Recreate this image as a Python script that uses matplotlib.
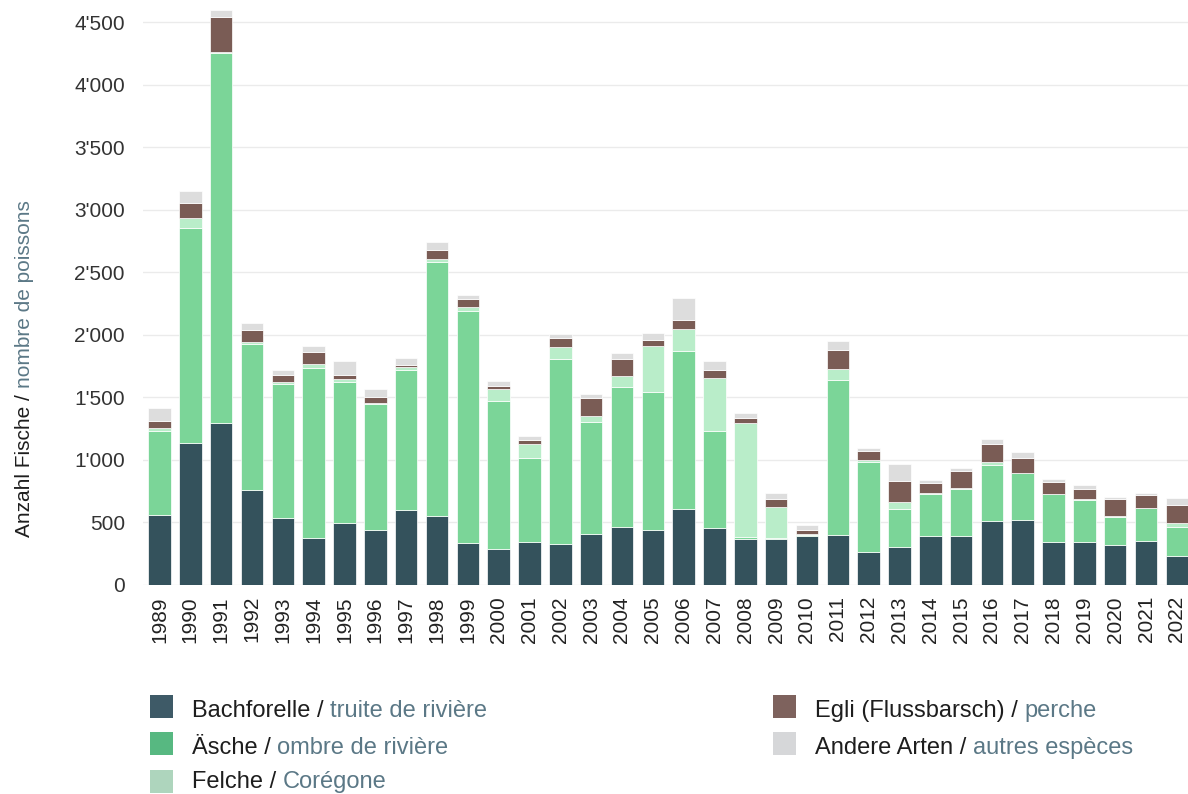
import matplotlib
matplotlib.use("Agg")
import matplotlib.pyplot as plt
from matplotlib.patches import Rectangle
from matplotlib.ticker import FuncFormatter

plt.rcParams['font.family'] = ['Liberation Sans', 'DejaVu Sans']

years = [str(y) for y in range(1989, 2023)]
bachforelle = [562, 1139, 1298, 757, 534, 373, 498, 443, 599, 550, 333, 290, 346, 325, 410, 466, 437,
               610, 458, 370, 368, 389, 397, 261, 306, 391, 388, 513, 519, 340, 343, 317, 348, 234]
aesche = [666, 1713, 2953, 1170, 1069, 1359, 1121, 1005, 1117, 2031, 1854, 1179, 671, 1479, 893, 1114, 1103,
          1261, 773, 14, 5, 11, 1245, 725, 302, 340, 381, 447, 377, 384, 338, 226, 266, 229]
felche = [30, 83, 9, 18, 19, 36, 24, 6, 25, 27, 33, 95, 107, 99, 48, 94, 373,
          173, 421, 914, 248, 5, 82, 16, 58, 6, 3, 24, 3, 5, 3, 8, 3, 34]
egli = [52, 116, 284, 92, 55, 98, 37, 52, 15, 73, 64, 27, 37, 74, 147, 136, 48,
        77, 67, 35, 64, 35, 157, 67, 163, 82, 139, 144, 114, 96, 87, 133, 104, 139]
andere = [101, 101, 55, 61, 45, 46, 110, 61, 61, 61, 37, 37, 30, 32, 32, 45, 54,
          176, 72, 45, 53, 42, 70, 26, 136, 24, 21, 42, 48, 24, 32, 16, 18, 61]

series = [bachforelle, aesche, felche, egli, andere]
bar_colors = ['#34525c', '#7bd598', '#b9edc9', '#7a5c55', '#dddddd']
legend_colors = ['#3e5a67', '#57b881', '#aed5bd', '#7e625d', '#d6d7d9']
labels_de = ['Bachforelle /', 'Äsche /', 'Felche /', 'Egli (Flussbarsch) /', 'Andere Arten /']
labels_fr = ['truite de rivière', 'ombre de rivière', 'Corégone', 'perche', 'autres espèces']

DARK = '#1e1e1e'
SLATE = '#5b7886'
W, H = 1188, 794

fig = plt.figure(figsize=(W / 100, H / 100), dpi=100)
ax = fig.add_axes([143 / W, 1 - 585 / H, (W - 143) / W, 585 / H])

x = range(len(years))
bottom = [0] * len(years)
for vals, col in zip(series, bar_colors):
    ax.bar(x, vals, width=0.73, bottom=bottom, color=col, edgecolor='white', linewidth=0.5, zorder=3)
    bottom = [b + v for b, v in zip(bottom, vals)]

ax.set_xlim(-0.535, 33.36)
ax.set_ylim(0, 4676)
ax.set_yticks(range(0, 4501, 500))
ax.yaxis.set_major_formatter(FuncFormatter(lambda v, p: f"{int(v):,}".replace(",", "'")))
ax.set_xticks(list(x))
ax.set_xticklabels(years, rotation=90)
ax.grid(axis='y', color='#ebebeb', linewidth=1, zorder=0)
ax.tick_params(axis='y', length=0, pad=13, labelsize=15, labelcolor='#333333')
ax.tick_params(axis='x', length=0, pad=8, labelsize=15, labelcolor='#222222')
for s in ax.spines.values():
    s.set_visible(False)

renderer = fig.canvas.get_renderer()


def px(xp, yp):
    return xp / W, 1 - yp / H


# y label in two colours
t1 = fig.text(*px(24, 537), 'Anzahl Fische /', rotation=90, fontsize=15, color=DARK,
              ha='center', va='bottom')
bb = t1.get_window_extent(renderer)
fig.text(24 / W, (bb.y1 + 6) / H, 'nombre de poissons', rotation=90, fontsize=15, color=SLATE,
         ha='center', va='bottom')

# legend drawn by hand (two colours per entry): patch bottom, text baseline
legend_pos = [(150, 718, 717), (150, 755, 754), (150, 793, 788), (773, 718, 717), (773, 755, 754)]
for (lx, lyb, base), col, de, fr in zip(legend_pos, legend_colors, labels_de, labels_fr):
    fig.add_artist(Rectangle(px(lx, lyb), 23 / W, 23 / H, transform=fig.transFigure,
                             facecolor=col, edgecolor='none'))
    t = fig.text(*px(lx + 42, base), de, fontsize=17, color=DARK, ha='left', va='baseline')
    bb = t.get_window_extent(renderer)
    fig.text((bb.x1 + 6.5) / W, 1 - base / H, fr, fontsize=17, color=SLATE,
             ha='left', va='baseline')

plt.savefig('out.png', dpi=100)
